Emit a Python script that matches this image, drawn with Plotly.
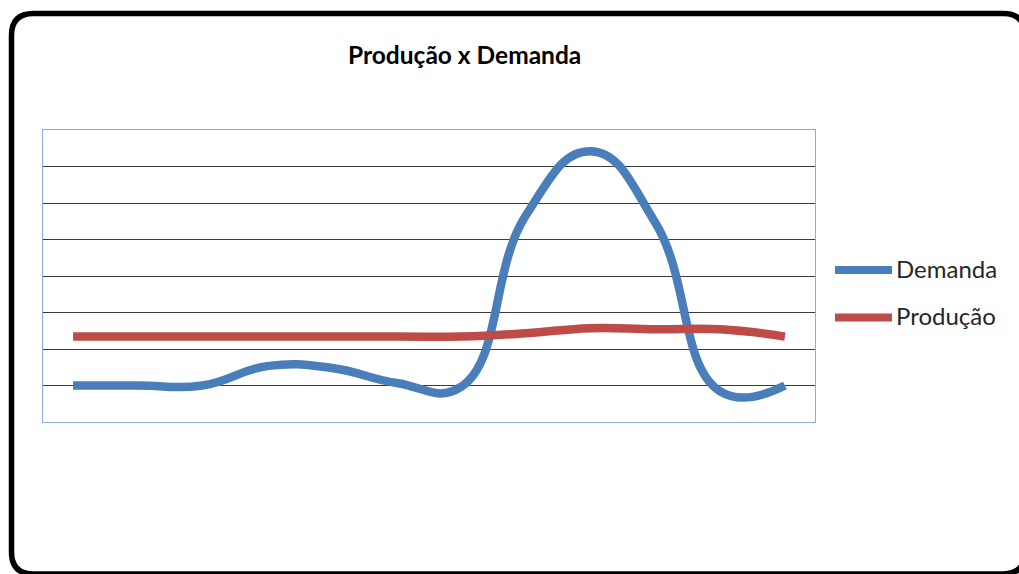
import plotly.graph_objects as go

# ---- data ----
categories = [1, 2, 3, 4, 5, 6, 7, 8, 9, 10, 11, 12]
demanda = [10, 10, 10, 15.3, 14.8, 10.7, 9.7, 56.7, 74.2, 54.5, 8.4, 10]
producao = [23.4, 23.4, 23.4, 23.4, 23.4, 23.4, 23.4, 24.3, 25.7, 25.4, 25.4, 23.4]
series_names = ["Demanda", "Produção"]
series_colors = ["#4A7EBB", "#BE4B48"]
grid_vals = [10, 20, 30, 40, 50, 60, 70]
title_text = "Produção x Demanda"

W, H = 1019, 574
L, R, T, B = 43, 815, 130, 422

def px(x):
    return (x - L) / (R - L)

def py(y):
    return (B - y) / (B - T)

fig = go.Figure()
for name, vals, col in zip(series_names, [demanda, producao], series_colors):
    fig.add_trace(go.Scatter(
        x=categories, y=vals, mode="lines", name=name,
        line=dict(color=col, width=8.5, shape="spline", smoothing=1.3),
        showlegend=False, hoverinfo="x+y+name",
    ))

shapes = []
# outer rounded frame
x0, y0, x1, y1, r = 11.5, 13.5, 1025, 574, 22
pts = [
    ("M", [(x0 + r, y0)]),
    ("L", [(x1 - r, y0)]),
    ("Q", [(x1, y0), (x1, y0 + r)]),
    ("L", [(x1, y1 - r)]),
    ("Q", [(x1, y1), (x1 - r, y1)]),
    ("L", [(x0 + r, y1)]),
    ("Q", [(x0, y1), (x0, y1 - r)]),
    ("L", [(x0, y0 + r)]),
    ("Q", [(x0, y0), (x0 + r, y0)]),
]
path = ""
for cmd, plist in pts:
    path += cmd + " ".join(f"{px(a):.5f},{py(b):.5f}" for a, b in plist) + " "
path += "Z"
shapes.append(dict(type="path", xref="paper", yref="paper", path=path,
                   line=dict(color="black", width=5.5), layer="below"))

# legend samples
annotations = []
legend_y = [270, 317.5]
for name, col, ly in zip(series_names, series_colors, legend_y):
    shapes.append(dict(type="line", xref="paper", yref="paper",
                       x0=px(835), x1=px(892), y0=py(ly), y1=py(ly),
                       line=dict(color=col, width=8)))
    annotations.append(dict(text=name, xref="paper", yref="paper",
                            x=px(894), y=py(ly - 2), xanchor="left", yanchor="middle",
                            showarrow=False,
                            font=dict(family="Lato", size=24, color="#262626")))

annotations.append(dict(text=f"<b>{title_text}</b>", xref="paper", yref="paper",
                        x=px(464), y=py(55), xanchor="center", yanchor="middle",
                        showarrow=False,
                        font=dict(family="Lato", size=24.5, color="black")))

fig.update_layout(
    width=W, height=H,
    margin=dict(l=L, r=W - R, t=T, b=H - B, pad=0),
    paper_bgcolor="white", plot_bgcolor="white",
    shapes=shapes, annotations=annotations,
    xaxis=dict(range=[1 - 0.465, 12 + 0.465], showgrid=False, zeroline=False,
               showticklabels=False, ticks="", showline=True, mirror=True,
               linecolor="#8EAADB", linewidth=1),
    yaxis=dict(range=[0, 80], tickvals=grid_vals, showgrid=True,
               gridcolor="#3a3a3a", gridwidth=1, zeroline=False,
               showticklabels=False, ticks="", showline=True, mirror=True,
               linecolor="#8EAADB", linewidth=1),
)

fig.write_html(
    "out.html",
    config={"displayModeBar": False},
    post_script="document.body.style.margin='0px';document.body.style.overflow='hidden';",
)
